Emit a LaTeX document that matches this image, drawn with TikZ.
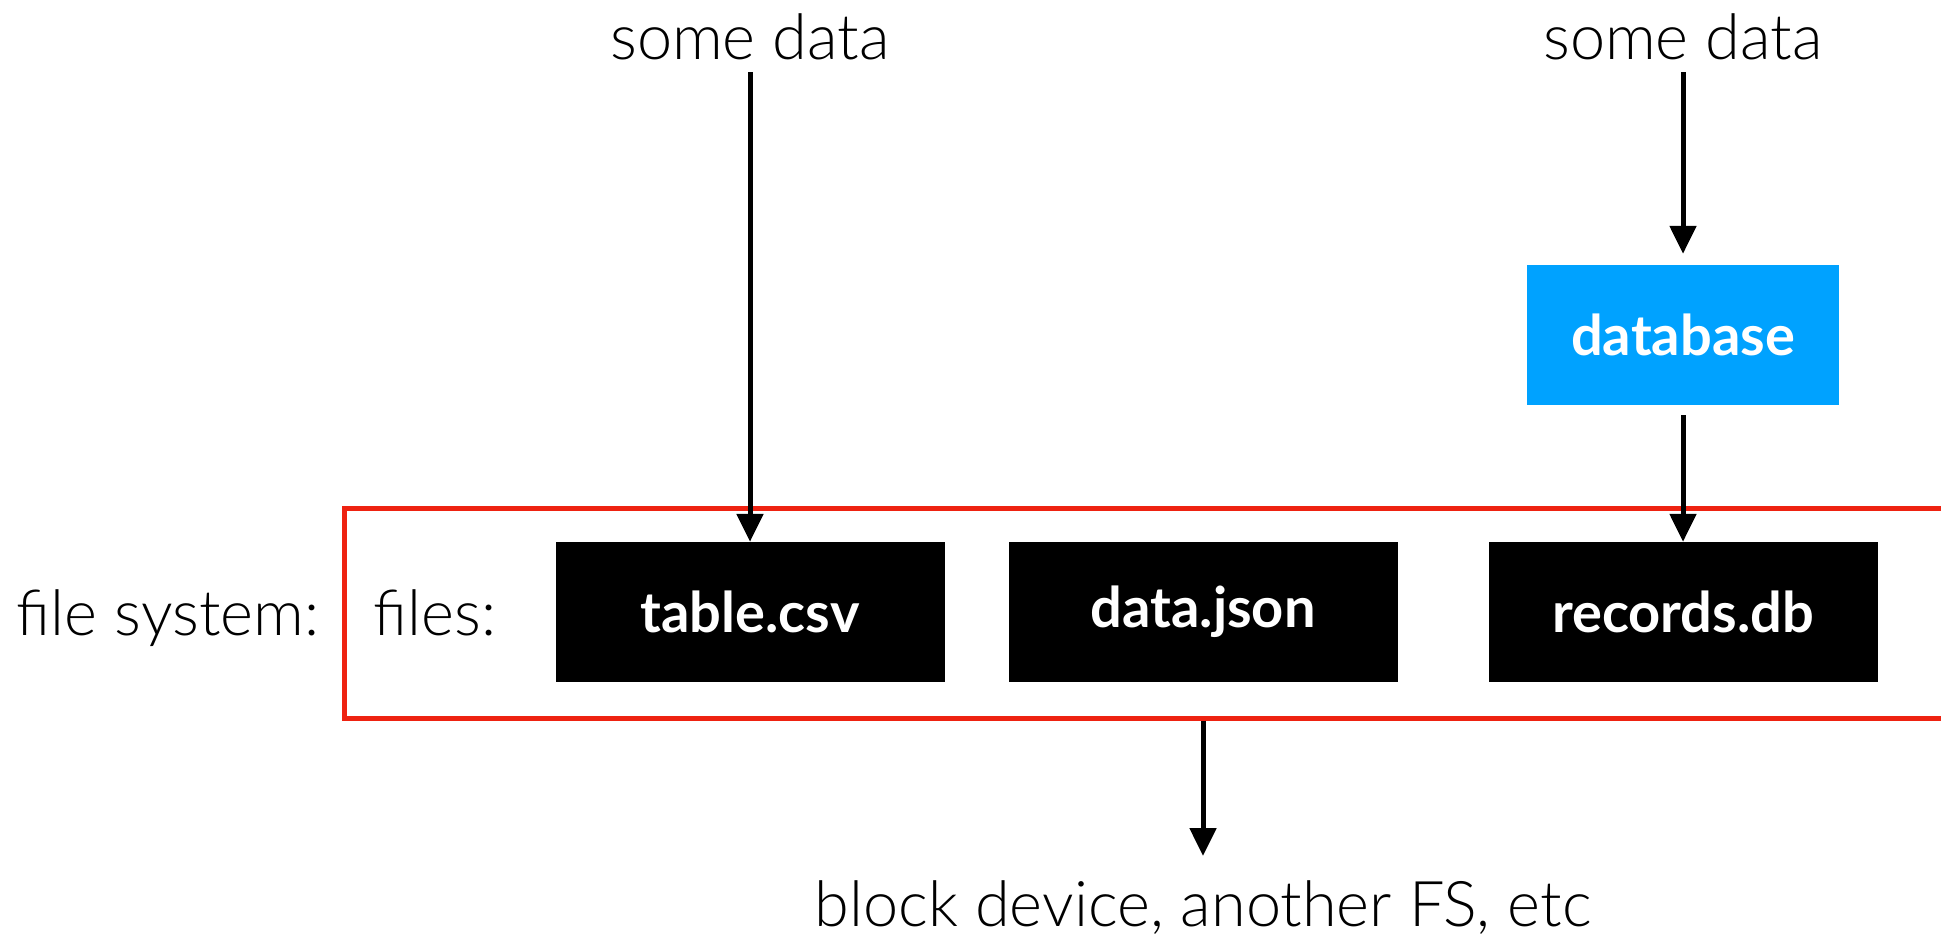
\documentclass[tikz,border=0pt]{standalone}
\usepackage{fontspec}
\setmainfont{Lato}[UprightFont={* Light},BoldFont={* Bold}]
\usetikzlibrary{arrows.meta}
\definecolor{fsred}{HTML}{EE2211}
\definecolor{dbblue}{HTML}{00A2FF}
\tikzset{
  lbl/.style={font=\fontsize{63}{76}\selectfont, inner sep=0pt, anchor=base},
  filebox/.style={fill=black, text=white, minimum width=389pt, minimum height=140pt, inner sep=0pt, font=\fontsize{56}{66}\selectfont\bfseries},
  dbbox/.style={fill=dbblue, text=white, minimum width=312pt, minimum height=140pt, inner sep=0pt, font=\fontsize{56}{66}\selectfont\bfseries},
  fsbox/.style={draw=fsred, line width=5pt, minimum width=1700pt, minimum height=210pt, inner sep=0pt},
  arr/.style={line width=5pt, -{Triangle[length=28pt,width=26pt]}}
}
\begin{document}
\begin{tikzpicture}[x=1pt,y=1pt]
\useasboundingbox (0,0) rectangle (1941,-935);
\clip (0,0) rectangle (1941,-935);
\node[fsbox] (fs) at (1194,-613) {};
\node[lbl] (sd1) at (750,-59) {some data};
\node[lbl] (sd2) at (1683,-59) {some data};
\node[lbl] (fsl) at (168,-635) {file system:};
\node[lbl] (files) at (435,-635) {files:};
\node[lbl] (blk) at (1203,-926) {block device, another FS, etc};
\node[filebox] (csv) at (750,-612) {table.csv};
\node[filebox] (json) at (1203,-612) {data.json};
\node[filebox] (rec) at (1683,-612) {records.db};
\node[dbbox] (db) at (1683,-335) {database};
\coordinate (fsb) at (json.south |- fs.south);
\coordinate (blkt) at (1203,-856);
\draw[arr] (sd1.south |- 0,-72) -- (csv.north);
\draw[arr] (sd2.south |- 0,-72) -- ([yshift=11pt]db.north);
\draw[arr] ([yshift=-10pt]db.south) -- (rec.north);
\draw[arr] (fsb) -- (blkt);
\end{tikzpicture}
\end{document}
